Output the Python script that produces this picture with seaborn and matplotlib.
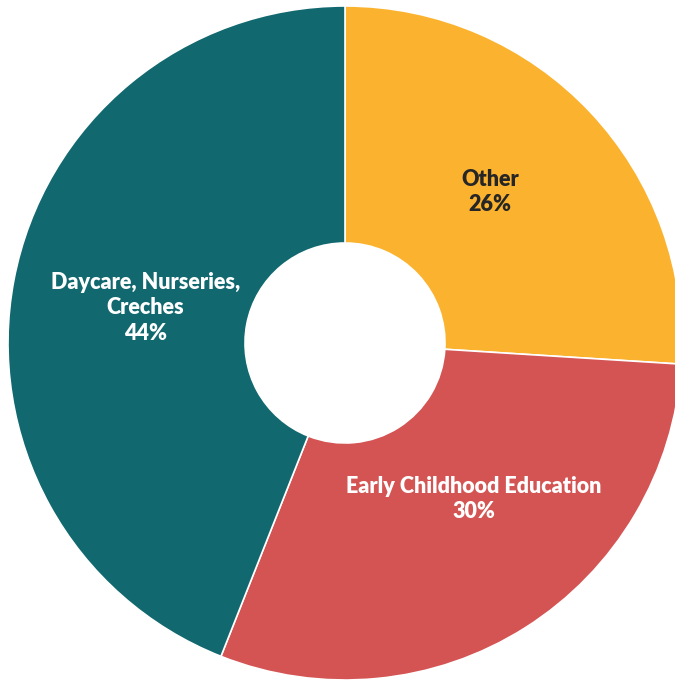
import matplotlib
matplotlib.use("Agg")
import matplotlib.pyplot as plt
import seaborn as sns

categories = ["Other", "Early Childhood Education", "Daycare, Nurseries,\nCreches"]
values = [26, 30, 44]
colors = ["#FBB32F", "#D45453", "#11686F"]
label_colors = ["#262626", "white", "white"]
label_pos = [(0.430, 0.448), (0.383, -0.463), (-0.593, 0.104)]

sns.set_theme(style="white")
plt.rcParams['font.family'] = ['Lato', 'DejaVu Sans']
palette = sns.color_palette(colors)

fig = plt.figure(figsize=(6.75, 6.81), dpi=100)
ax = fig.add_axes([0, 0, 1, 1])
ax.pie(values, colors=palette, startangle=90, counterclock=False,
       radius=1.0, wedgeprops=dict(width=1 - 100 / 337, edgecolor="white", linewidth=1.2))
for cat, v, (x, y), c in zip(categories, values, label_pos, label_colors):
    ax.text(x, y, f"{cat}\n{v}%", ha="center", va="center", color=c,
            fontsize=15.5, fontweight="heavy", linespacing=1.27)

r = 337.0
xmin = -345 / r
ymin = -338 / r
ax.set_xlim(xmin, xmin + 675 / r)
ax.set_ylim(ymin, ymin + 681 / r)
ax.set_aspect("auto")
ax.axis("off")
fig.savefig("out.png", dpi=100)
